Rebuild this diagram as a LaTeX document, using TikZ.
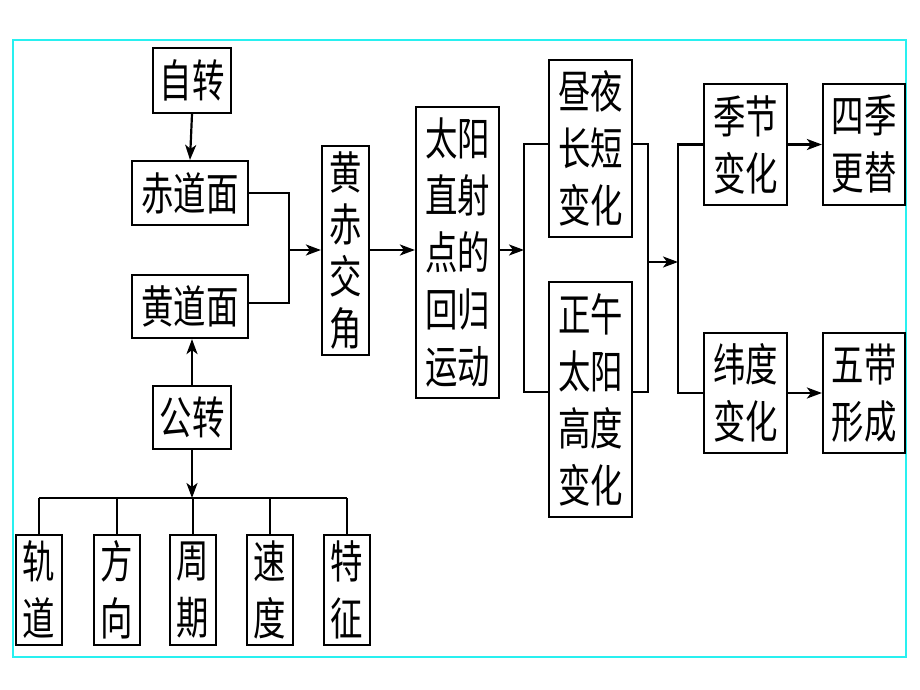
\documentclass[tikz,border=0pt]{standalone}
\usepackage{fontspec}
\newfontfamily\cjk[FakeStretch=0.72]{Noto Sans CJK SC}
\usetikzlibrary{arrows.meta}
\begin{document}
\begin{tikzpicture}[x=1pt,y=-1pt,
  box/.style={draw,line width=2.2pt,inner sep=0pt,align=center,
    font=\cjk\fontsize{45}{57}\selectfont},
  conn/.style={line width=2.2pt},
  arr/.style={line width=2.2pt,-{Stealth[length=15pt,width=11pt,inset=4pt]}},
  frame/.style={draw={rgb,255:red,40;green,240;blue,240},line width=2.4pt}]
\fill[white] (0,0) rectangle (920,690);
\useasboundingbox (0,0) rectangle (920,690);
\draw[frame] (13,40) rectangle (906,657);
% left column
\node[box,minimum width=78pt,minimum height=65pt] (zz) at (192,80.5) {自转};
\node[box,minimum width=116pt,minimum height=64pt] (cd) at (190,193) {赤道面};
\node[box,minimum width=116pt,minimum height=63pt] (hd) at (190,306.5) {黄道面};
\node[box,minimum width=78pt,minimum height=63pt] (gz) at (192,417.5) {公转};
\node[box,minimum width=46pt,minimum height=110pt] (b1) at (39,590) {轨\\道};
\node[box,minimum width=46pt,minimum height=110pt] (b2) at (117,590) {方\\向};
\node[box,minimum width=46pt,minimum height=110pt] (b3) at (193,590) {周\\期};
\node[box,minimum width=46pt,minimum height=110pt] (b4) at (270,590) {速\\度};
\node[box,minimum width=46pt,minimum height=110pt] (b5) at (347,590) {特\\征};
% middle
\node[box,minimum width=47pt,minimum height=209pt,font=\cjk\fontsize{45}{52}\selectfont] (hc) at (345.5,250.5) {黄\\赤\\交\\角};
\node[box,minimum width=83pt,minimum height=291pt] (ty) at (457.5,252.5) {太阳\\直射\\点的\\回归\\运动};
\node[box,minimum width=83pt,minimum height=177pt] (zy) at (590.5,148.5) {昼夜\\长短\\变化};
\node[box,minimum width=83pt,minimum height=235pt] (zw) at (590.5,399.5) {正午\\太阳\\高度\\变化};
% right
\node[box,minimum width=83pt,minimum height=121pt] (jj) at (745.5,144.5) {季节\\变化};
\node[box,minimum width=82pt,minimum height=121pt] (sj) at (864,144.5) {四季\\更替};
\node[box,minimum width=83pt,minimum height=120pt] (wd) at (745.5,393) {纬度\\变化};
\node[box,minimum width=82pt,minimum height=120pt] (wf) at (864,393) {五带\\形成};
% coordinates
\coordinate (j1) at (289,250);
\coordinate (bus) at (192,498);
\coordinate (busL) at (39,498);
\coordinate (busR) at (347,498);
\coordinate (j2) at (524,250);
\coordinate (j3) at (648,262);
\coordinate (j4) at (678,262);
% connectors
\draw[arr] (zz.south) -- (cd.north);
\draw[conn] (cd.east) -- (289,193) -- (289,303) -- (hd.east |- 0,303);
\draw[arr] (j1) -- (hc.west |- j1);
\draw[arr] (gz.north) -- (hd.south -| gz.north);
\draw[arr] (gz.south) -- (bus);
\draw[conn] (busL) -- (busR);
\draw[conn] (b1.north) -- (b1.north |- busL);
\draw[conn] (b2.north) -- (b2.north |- busL);
\draw[conn] (b3.north) -- (b3.north |- busL);
\draw[conn] (b4.north) -- (b4.north |- busL);
\draw[conn] (b5.north) -- (b5.north |- busL);
\draw[arr] (hc.east |- 0,250) -- (ty.west |- 0,250);
\draw[arr] (ty.east |- j2) -- (j2);
\draw[conn] (zy.west |- 0,144) -- (524,144) -- (524,392) -- (zw.west |- 0,392);
\draw[conn] (zy.east |- 0,144) -- (648,144) -- (648,392) -- (zw.east |- 0,392);
\draw[arr] (j3) -- (j4);
\draw[conn] (jj.west) -- (678,144.5) -- (678,393) -- (wd.west);
\draw[arr] (jj.east) -- (sj.west);
\draw[arr] (wd.east) -- (wf.west);
\end{tikzpicture}
\end{document}
